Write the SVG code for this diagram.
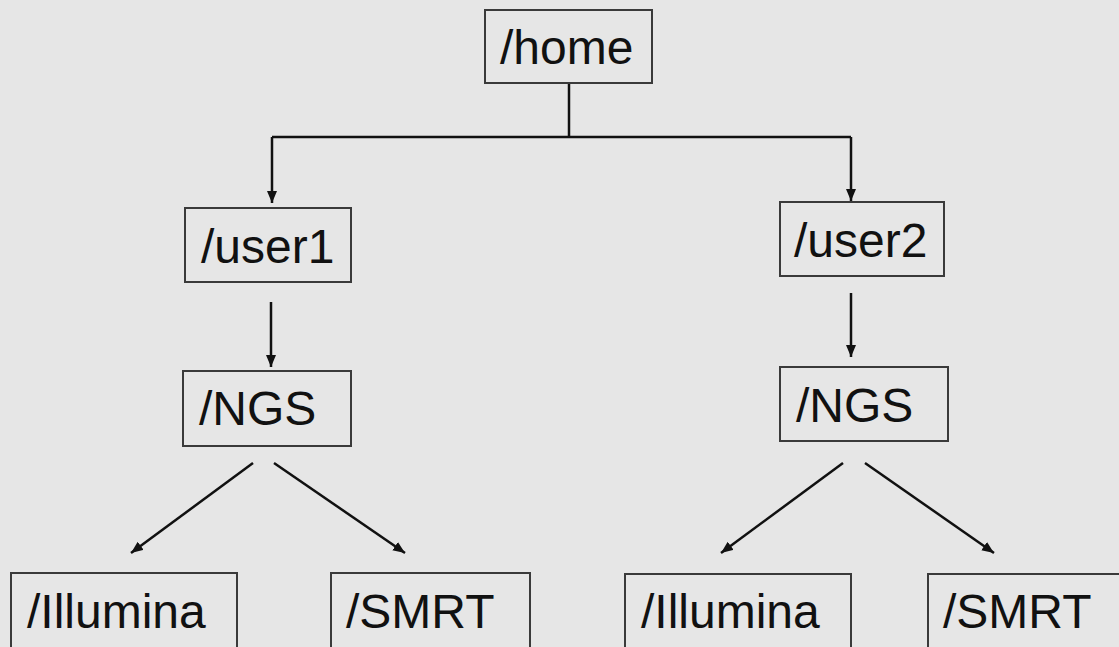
<svg xmlns="http://www.w3.org/2000/svg" width="1119" height="647" viewBox="0 0 1119 647">
<style>
.box{fill:#e6e6e6;stroke:#3a3a3a;stroke-width:2}
.lbl{font-family:"Liberation Sans",Arial,sans-serif;font-size:48px;fill:#111}
.conn{stroke:#111;stroke-width:2.5;fill:none}
</style>
<defs>
<marker id="ah" markerUnits="userSpaceOnUse" markerWidth="14" markerHeight="12" refX="12" refY="5" orient="auto">
<path d="M0,0 L12,5 L0,10 z" fill="#111"/>
</marker>
</defs>
<rect x="0" y="0" width="1119" height="647" fill="#e6e6e6"/>
<g id="connectors">
<path class="conn" d="M569,83 V137"/>
<path class="conn" d="M272,137 H851" stroke-width="3"/>
<path class="conn" d="M272,137 V203" marker-end="url(#ah)"/>
<path class="conn" d="M851,137 V201" marker-end="url(#ah)"/>
<path class="conn" d="M271,302 V367" marker-end="url(#ah)"/>
<path class="conn" d="M851,293 V357" marker-end="url(#ah)"/>
<path class="conn" d="M253,463 L131,553" marker-end="url(#ah)"/>
<path class="conn" d="M274,463 L405,553" marker-end="url(#ah)"/>
<path class="conn" d="M843,463 L721,553" marker-end="url(#ah)"/>
<path class="conn" d="M865,463 L994,553" marker-end="url(#ah)"/>
</g>
<g id="home"><rect class="box" x="485" y="10" width="167" height="73"/><text class="lbl" x="500" y="64">/home</text></g>
<g id="user1"><rect class="box" x="185" y="208" width="166" height="74"/><text class="lbl" x="201" y="263">/user1</text></g>
<g id="user2"><rect class="box" x="780" y="202" width="164" height="74"/><text class="lbl" x="794" y="257">/user2</text></g>
<g id="ngs1"><rect class="box" x="183" y="371" width="168" height="75"/><text class="lbl" x="199" y="425">/NGS</text></g>
<g id="ngs2"><rect class="box" x="780" y="367" width="168" height="74"/><text class="lbl" x="796" y="422">/NGS</text></g>
<g id="illumina1"><rect class="box" x="11" y="573" width="226" height="80"/><text class="lbl" x="27" y="628">/Illumina</text></g>
<g id="smrt1"><rect class="box" x="331" y="573" width="199" height="80"/><text class="lbl" x="346" y="628">/SMRT</text></g>
<g id="illumina2"><rect class="box" x="625" y="574" width="226" height="80"/><text class="lbl" x="641" y="628">/Illumina</text></g>
<g id="smrt2"><rect class="box" x="928" y="574" width="200" height="80"/><text class="lbl" x="943" y="628">/SMRT</text></g>
</svg>
